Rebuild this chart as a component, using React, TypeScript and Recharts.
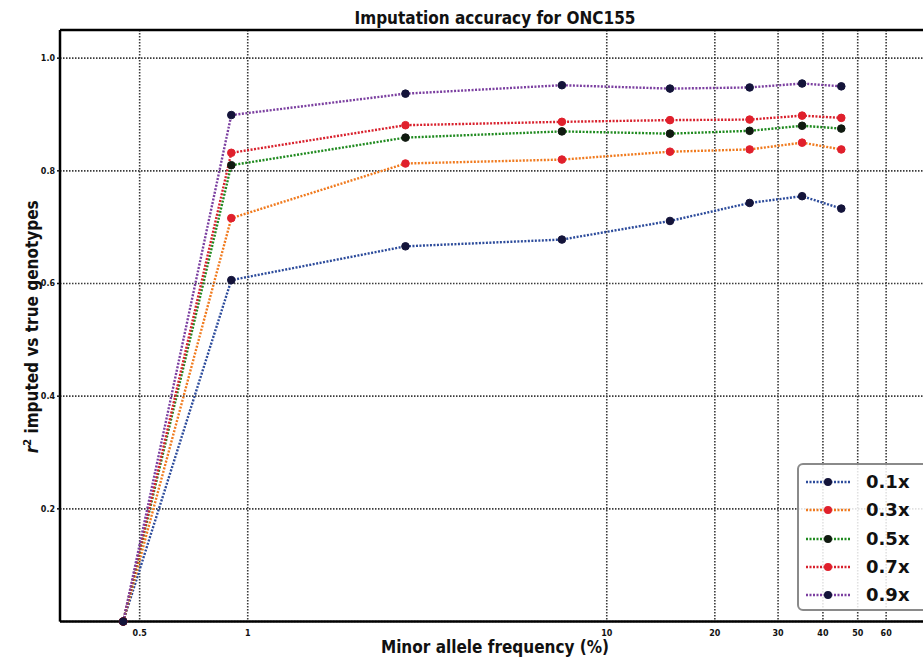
import React from 'react';
import { LineChart, Line, XAxis, YAxis, CartesianGrid, ReferenceLine } from 'recharts';

// minor allele frequency bins (%), log axis
const maf = [0.45, 0.9, 2.75, 7.5, 15, 25, 35, 45];
const r01 = [0, 0.606, 0.666, 0.678, 0.711, 0.743, 0.755, 0.733];
const r03 = [0, 0.716, 0.813, 0.82, 0.834, 0.838, 0.85, 0.838];
const r05 = [0, 0.81, 0.859, 0.87, 0.866, 0.871, 0.88, 0.875];
const r07 = [0, 0.832, 0.881, 0.887, 0.89, 0.891, 0.898, 0.894];
const r09 = [0, 0.899, 0.937, 0.952, 0.946, 0.948, 0.955, 0.95];

const xTicks = [0.5, 1, 10, 20, 30, 40, 50, 60];
const yTicks = [0.2, 0.4, 0.6, 0.8, 1.0];

const series = [
  { key: 'c01', name: '0.1x', values: r01, color: '#2c4b9b', dot: '#14143a' },
  { key: 'c03', name: '0.3x', values: r03, color: '#f07a1e', dot: '#e0202c' },
  { key: 'c05', name: '0.5x', values: r05, color: '#1f8a1f', dot: '#101a10' },
  { key: 'c07', name: '0.7x', values: r07, color: '#d8202c', dot: '#e0202c' },
  { key: 'c09', name: '0.9x', values: r09, color: '#7b3fa0', dot: '#14143a' },
];

const data = maf.map((m, i) => {
  const row: Record<string, number> = { maf: m };
  series.forEach((s) => { row[s.key] = s.values[i]; });
  return row;
});

const FONT = '"DejaVu Sans", sans-serif';
const COND = '"DejaVu Sans Condensed", "DejaVu Sans", sans-serif';

const LegendBox = () => (
  <div
    style={{
      position: 'absolute',
      left: 797,
      top: 463,
      width: 140,
      height: 148,
      border: '2px solid #8a8a8a',
      borderRadius: 6,
      background: 'rgba(255,255,255,0.85)',
      boxSizing: 'border-box',
      paddingTop: 3,
    }}
  >
    {series.map((s) => (
      <div key={s.key} style={{ display: 'flex', alignItems: 'center', height: 28.3 }}>
        <svg width={62} height={12} style={{ marginLeft: 5 }}>
          <line x1={2} x2={46} y1={6} y2={6} stroke={s.color} strokeWidth={2.4} strokeDasharray="2 1.5" />
          <circle cx={24} cy={6} r={4} fill={s.dot} />
        </svg>
        <span style={{ fontFamily: FONT, fontWeight: 700, fontSize: 18, color: '#111', lineHeight: 1 }}>{s.name}</span>
      </div>
    ))}
  </div>
);

export default function App() {
  return (
    <div style={{ position: 'absolute', left: 0, top: 0, width: 923, height: 657, overflow: 'hidden', background: '#fff' }}>
      <div
        style={{
          position: 'absolute', left: 0, width: 990, top: 8, textAlign: 'center',
          fontFamily: COND, fontWeight: 700, fontSize: 17, color: '#111',
        }}
      >
        Imputation accuracy for ONC155
      </div>
      <div
        style={{
          position: 'absolute', left: 0, width: 990, top: 638, textAlign: 'center',
          fontFamily: COND, fontWeight: 700, fontSize: 17, color: '#111', lineHeight: '18px',
        }}
      >
        Minor allele frequency (%)
      </div>
      <div
        style={{
          position: 'absolute', left: 30, top: 325, width: 300, marginLeft: -150, marginTop: -11,
          transform: 'rotate(-90deg)', textAlign: 'center',
          fontFamily: COND, fontWeight: 700, fontSize: 17, color: '#111', lineHeight: '22px',
        }}
      >
        <i>r</i><sup style={{ fontSize: 11 }}>2</sup> imputed vs true genotypes
      </div>
      <LineChart width={935} height={657} data={data} margin={{ top: 30, right: 4, bottom: 0, left: 0 }}>
        <CartesianGrid stroke="#3a3a3a" strokeWidth={1.6} strokeDasharray="1.5 1.5" />
        <XAxis
          dataKey="maf"
          type="number"
          scale="log"
          domain={[0.3, 80]}
          allowDataOverflow
          ticks={xTicks}
          interval={0}
          height={35.5}
          axisLine={{ stroke: '#000', strokeWidth: 2.5 }}
          tickLine={false}
          tickMargin={3}
          tick={{ fontFamily: FONT, fontWeight: 700, fontSize: 8, fill: '#111' }}
        />
        <YAxis
          type="number"
          domain={[0, 1.05]}
          ticks={yTicks}
          tickFormatter={(v: number) => v.toFixed(1)}
          width={60}
          axisLine={{ stroke: '#000', strokeWidth: 2.5 }}
          tickLine={{ stroke: '#111', strokeWidth: 1.5 }}
          tickSize={3}
          tickMargin={2}
          tick={{ fontFamily: FONT, fontWeight: 700, fontSize: 8, fill: '#111' }}
        />
        <ReferenceLine y={1.05} stroke="#000" strokeWidth={2.5} />
        {series.map((s) => (
          <Line
            key={s.key}
            dataKey={s.key}
            name={s.name}
            type="linear"
            stroke={s.color}
            strokeWidth={2.4}
            strokeDasharray="2 1.5"
            dot={{ r: 3.8, fill: s.dot, stroke: s.dot, strokeWidth: 1, strokeDasharray: '' }}
            activeDot={false}
            isAnimationActive={false}
          />
        ))}
      </LineChart>
      <LegendBox />
    </div>
  );
}
